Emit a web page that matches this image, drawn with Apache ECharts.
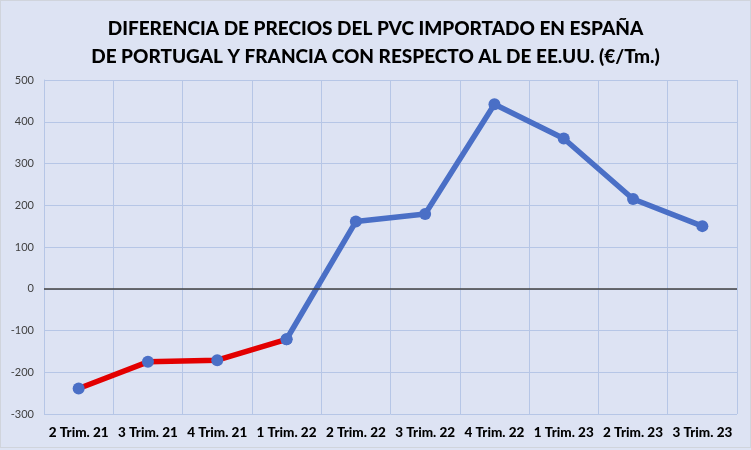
<!DOCTYPE html>
<html>
<head>
<meta charset="utf-8">
<script src="https://cdn.jsdelivr.net/npm/echarts@6/dist/echarts.min.js"></script>
<style>
  html, body { margin: 0; padding: 0; background: #dde3f3; }
  #chart { width: 749px; height: 446px; border: 1px solid #d0d4dc; }
</style>
</head>
<body>
<div id="chart"></div>
<script>
var categories = ["2 Trim. 21", "3 Trim. 21", "4 Trim. 21", "1 Trim. 22", "2 Trim. 22",
                  "3 Trim. 22", "4 Trim. 22", "1 Trim. 23", "2 Trim. 23", "3 Trim. 23"];
// diferencia de precios (€/Tm.)
var diferencia = [-239, -175, -171, -121, 161, 179, 442, 360, 215, 150];
var tramoNegativo = 4; // primeros puntos dibujados en rojo

var redData = diferencia.map(function (v, i) { return i < tramoNegativo ? v : null; });
var blueData = diferencia.map(function (v, i) { return i >= tramoNegativo - 1 ? v : null; });

var chart = echarts.init(document.getElementById("chart"));
chart.setOption({
  backgroundColor: "#dde3f3",
  animation: false,
  title: {
    text: "DIFERENCIA DE PRECIOS DEL PVC IMPORTADO EN ESPAÑA\nDE PORTUGAL Y FRANCIA CON RESPECTO AL DE EE.UU. (€/Tm.)",
    left: "center",
    top: 9,
    textStyle: { fontFamily: "Lato", fontWeight: 900, fontSize: 19, color: "#000", lineHeight: 28 }
  },
  grid: { left: 43, right: 13, top: 79, bottom: 33 },
  xAxis: {
    type: "category",
    data: categories,
    boundaryGap: true,
    axisLine: { show: false },
    axisTick: { show: false },
    splitLine: { show: true, interval: 0, lineStyle: { color: "#b6c6e6", width: 1 } },
    axisLabel: { interval: 0, margin: 12, fontFamily: "Lato", fontWeight: 900, fontSize: 13.5, color: "#000" }
  },
  yAxis: {
    type: "value",
    min: -300,
    max: 500,
    interval: 100,
    axisLine: { show: true, lineStyle: { color: "#b6c6e6" } },
    axisTick: { show: false },
    splitLine: { lineStyle: { color: "#b6c6e6", width: 1 } },
    axisLabel: { fontFamily: "Lato", fontSize: 11, color: "#404040", margin: 10 }
  },
  series: [
    {
      type: "line",
      data: redData,
      symbol: "circle",
      symbolSize: 12,
      lineStyle: { color: "#e30000", width: 5.5 },
      itemStyle: { color: "#4a6fc6" },
      z: 2,
      markLine: {
        silent: true,
        symbol: "none",
        label: { show: false },
        lineStyle: { color: "#404040", width: 1.5, type: "solid" },
        data: [{ yAxis: 0 }]
      }
    },
    {
      type: "line",
      data: blueData,
      symbol: "circle",
      symbolSize: 12,
      lineStyle: { color: "#4a6fc6", width: 5.5 },
      itemStyle: { color: "#4a6fc6" },
      z: 3
    }
  ]
});
</script>
</body>
</html>
